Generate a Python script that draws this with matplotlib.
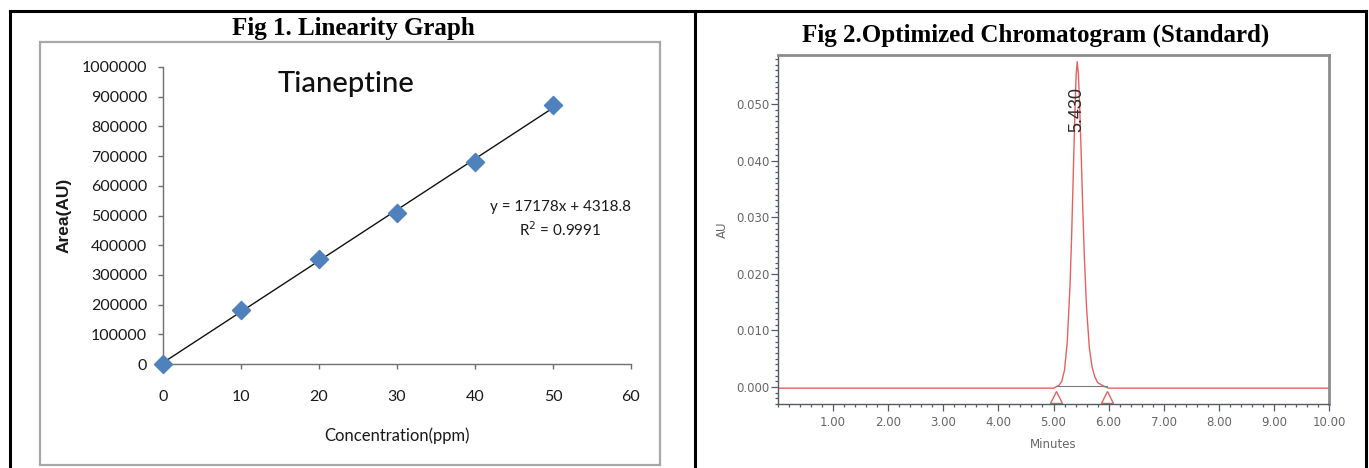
import matplotlib
matplotlib.use("Agg")
import matplotlib.pyplot as plt
import numpy as np
from matplotlib.lines import Line2D
from matplotlib.patches import Rectangle
from matplotlib.ticker import MultipleLocator, FixedLocator, FuncFormatter

# ---------------- data ----------------
# Fig 1: linearity
conc_ppm = [0, 10, 20, 30, 40, 50]
area_au = [0, 183000, 355000, 510000, 680000, 872000]
lin_xticks = [0, 10, 20, 30, 40, 50, 60]
lin_yticks = [0, 100000, 200000, 300000, 400000, 500000, 600000, 700000, 800000, 900000, 1000000]
equation_text = "y = 17178x + 4318.8"
r2_text = "R$^2$ = 0.9991"

# Fig 2: chromatogram trace
chrom_time = [0.0, 0.5, 1.0, 1.5, 2.0, 2.5, 3.0, 3.5, 4.0, 4.5, 5.0, 5.1, 5.15, 5.2, 5.25,
              5.3, 5.33, 5.36, 5.39, 5.41, 5.43, 5.45, 5.47, 5.5, 5.53, 5.56, 5.6,
              5.65, 5.7, 5.75, 5.8, 5.9, 6.0, 6.5, 7.0, 8.0, 9.0, 10.0]
chrom_au = [-0.0002, -0.0002, -0.0002, -0.0002, -0.0002, -0.0002, -0.0002, -0.0002, -0.0002, -0.0002,
            -0.0002, 0.0003, 0.0010, 0.0030, 0.0080,
            0.0180, 0.0270, 0.0380, 0.0490, 0.0550, 0.0575, 0.0555, 0.0510, 0.0420, 0.0320, 0.0230, 0.0140,
            0.0070, 0.0035, 0.0018, 0.0008, 0.0002, -0.0002, -0.0002, -0.0002, -0.0002, -0.0002, -0.0002]
peak_rt = 5.43
peak_label = "5.430"
integ_start, integ_end = 5.05, 5.97
chrom_xticks = [1, 2, 3, 4, 5, 6, 7, 8, 9, 10]
chrom_yticks = [0.000, 0.010, 0.020, 0.030, 0.040, 0.050]

# ---------------- layout helpers ----------------
W, H = 1369, 468
fig = plt.figure(figsize=(W / 100, H / 100), dpi=100)
fig.patch.set_facecolor("white")


def rect(x0, y0, x1, y1):
    return [x0 / W, 1 - y1 / H, (x1 - x0) / W, (y1 - y0) / H]


def fx(x):
    return x / W


def fy(y):
    return 1 - y / H


def fline(x0, y0, x1, y1, **kw):
    fig.add_artist(Line2D([fx(x0), fx(x1)], [fy(y0), fy(y1)], transform=fig.transFigure, **kw))


# table borders
fline(10, 11, 1366, 11, color="black", lw=2.2)
fline(10, 11, 10, 470, color="black", lw=2.2)
fline(695, 11, 695, 470, color="black", lw=2.2)
fline(1366, 11, 1366, 470, color="black", lw=2.2)

title_font = dict(family="Liberation Serif", weight="bold", size=18)
fig.text(fx(353), fy(28), "Fig 1. Linearity Graph", ha="center", va="center", **title_font)
fig.text(fx(1036), fy(35), "Fig 2.Optimized Chromatogram (Standard)", ha="center", va="center", **title_font)

# ---------------- Fig 1 ----------------
fig.add_artist(Rectangle((fx(40), fy(465)), fx(660) - fx(40), fy(42) - fy(465),
                         transform=fig.transFigure, fill=False, edgecolor="#a8a8a8", lw=1.6))

excel_font = "Lato"
ax1 = fig.add_axes(rect(163, 67, 631, 364))
ax1.scatter(conc_ppm, area_au, marker="D", s=85, color="#4F81BD", edgecolor="#4F81BD",
            zorder=3, clip_on=False)
slope, intercept = np.polyfit(conc_ppm, area_au, 1)
fit_x = np.array([min(conc_ppm), max(conc_ppm)])
ax1.plot(fit_x, slope * fit_x + intercept, color="#111111", lw=1.0, zorder=2)
ax1.set_xlim(0, 60)
ax1.set_ylim(0, 1000000)
ax1.set_xticks(lin_xticks)
ax1.set_yticks(lin_yticks)
ax1.set_xticklabels([str(v) for v in lin_xticks], family=excel_font, size=11.5, color="#1a1a1a")
ax1.set_yticklabels([str(v) for v in lin_yticks], family=excel_font, size=11.5, color="#1a1a1a")
for s in ["top", "right"]:
    ax1.spines[s].set_visible(False)
for s in ["left", "bottom"]:
    ax1.spines[s].set_color("#6f6f6f")
    ax1.spines[s].set_linewidth(1.0)
ax1.tick_params(axis="y", direction="out", length=3.5, width=1, color="#6f6f6f", pad=8)
ax1.tick_params(axis="x", direction="out", length=3.5, width=1, color="#6f6f6f", pad=15)
ax1.set_facecolor("none")
ax1.set_xlabel("Concentration(ppm)", family=excel_font, size=12, color="#1a1a1a")
ax1.set_ylabel("Area(AU)", family="Liberation Sans", weight="bold", size=12.5, color="#1a1a1a")
ax1.yaxis.set_label_coords((72 - 163) / (631 - 163), 0.5)
ax1.xaxis.set_label_coords(0.5, -(427 - 364) / (364 - 67))
ax1.text(fx(346), fy(84), "Tianeptine", transform=fig.transFigure, family=excel_font, size=21,
         weight="medium", ha="center", va="center", color="#111111")
ax1.text(fx(560), fy(207), equation_text, transform=fig.transFigure, family=excel_font, size=11,
         ha="center", va="center", color="#1a1a1a")
ax1.text(fx(560), fy(230), r2_text, transform=fig.transFigure, family=excel_font, size=11,
         ha="center", va="center", color="#1a1a1a")

# ---------------- Fig 2 ----------------
ax2 = fig.add_axes(rect(778, 55, 1329, 404))
ax2.plot(chrom_time, chrom_au, color="#e8605f", lw=1.0)
ax2.plot([integ_start, integ_end], [0.0001, 0.0001], color="#7a7a80", lw=0.8)
ax2.plot([integ_start, integ_end], [-0.0017, -0.0017], linestyle="none", marker="^",
         markersize=8, markerfacecolor="none", markeredgecolor="#e8605f", markeredgewidth=1.0)
ax2.set_xlim(0, 10)
ax2.set_ylim(-0.0030, 0.0587)
ax2.xaxis.set_major_locator(FixedLocator(chrom_xticks))
ax2.xaxis.set_minor_locator(MultipleLocator(0.2))
ax2.yaxis.set_major_locator(FixedLocator(chrom_yticks))
ax2.yaxis.set_minor_locator(MultipleLocator(0.001))
ax2.xaxis.set_major_formatter(FuncFormatter(lambda v, p: f"{v:.2f}"))
ax2.yaxis.set_major_formatter(FuncFormatter(lambda v, p: f"{v:.3f}"))
small_font = ["Liberation Sans Narrow", "DejaVu Sans"]
for lab in ax2.get_xticklabels() + ax2.get_yticklabels():
    lab.set_family(small_font)
ax2.tick_params(axis="both", which="major", direction="out", length=5, width=0.9,
                color="#555a66", labelsize=8.5, labelcolor="#666666")
ax2.tick_params(axis="both", which="minor", direction="out", length=2.5, width=0.9, color="#555a66")
ax2.tick_params(axis="y", which="major", pad=1)
ax2.tick_params(axis="x", which="major", pad=4)
for s in ["left", "bottom"]:
    ax2.spines[s].set_color("#555a66")
    ax2.spines[s].set_linewidth(1.0)
for s in ["top", "right"]:
    ax2.spines[s].set_color("#8c8c8c")
    ax2.spines[s].set_linewidth(2.0)
ax2.set_xlabel("Minutes", family=small_font, size=8.5, color="#666666", labelpad=6)
ax2.set_ylabel("AU", family=small_font, size=8.5, color="#666666")
ax2.yaxis.set_label_coords((729 - 778) / (1329 - 778), (404 - 230) / (404 - 55))
ax2.text(peak_rt, 0.0490, peak_label, rotation=90, ha="center", va="center",
         size=13, color="#2a2a2a", family=["Liberation Sans", "DejaVu Sans"])

fig.savefig("out.png", dpi=100)
